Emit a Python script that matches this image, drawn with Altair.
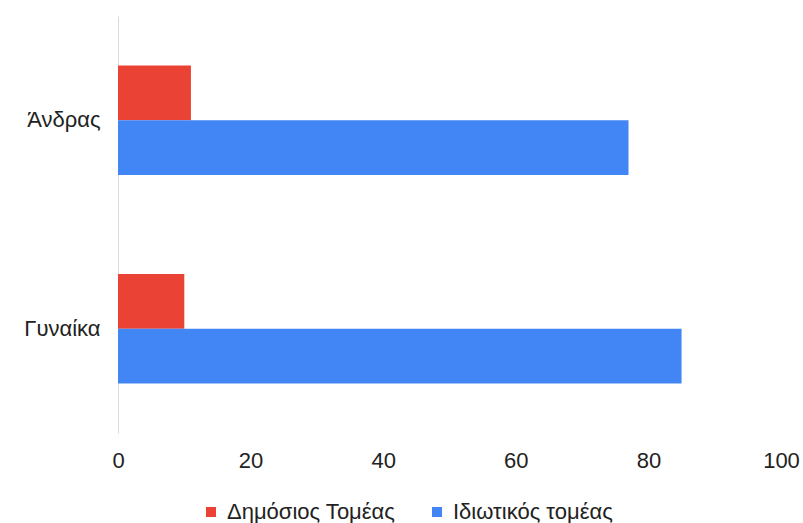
import altair as alt
import pandas as pd

categories = ["Άνδρας", "Γυναίκα"]
series = ["Δημόσιος Τομέας", "Ιδιωτικός τομέας"]
public_values = [11, 10]
private_values = [77, 85]
colors = ["#EA4335", "#4285F4"]
x_ticks = [0, 20, 40, 60, 80, 100]

rows = []
for i, c in enumerate(categories):
    rows.append({"category": c, "series": series[0], "value": public_values[i]})
    rows.append({"category": c, "series": series[1], "value": private_values[i]})
df = pd.DataFrame(rows)

FONT = "Liberation Sans"

chart = alt.Chart(df).mark_bar().encode(
    y=alt.Y("category:N", sort=categories, title=None,
            scale=alt.Scale(paddingInner=0.474, paddingOuter=0.237),
            axis=alt.Axis(domain=True, domainColor="#dcdcdc", domainWidth=1,
                          ticks=False, grid=False, labelFontSize=22,
                          labelColor="#222222", labelFont=FONT, labelPadding=18)),
    yOffset=alt.YOffset("series:N", sort=series),
    x=alt.X("value:Q", title=None,
            scale=alt.Scale(domain=[0, 100], nice=False),
            axis=alt.Axis(values=x_ticks, domain=False, ticks=False, grid=False,
                          labelFontSize=22, labelColor="#222222", labelFont=FONT,
                          labelPadding=17, labelBaseline="top", labelFlush=False)),
    color=alt.Color("series:N", sort=series,
                    scale=alt.Scale(domain=series, range=colors),
                    legend=alt.Legend(title=None, orient="none", direction="horizontal",
                                      legendX=82, legendY=485,
                                      symbolType="square", symbolSize=100,
                                      symbolStrokeWidth=0, labelLimit=400,
                                      labelFontSize=22, labelFont=FONT,
                                      labelColor="#222222", columnPadding=30,
                                      labelOffset=5)),
).properties(
    width=663, height=417,
    autosize=alt.AutoSizeParams(type="none"),
    padding={"left": 118, "top": 16, "right": 22, "bottom": 90},
).configure(background="white").configure_view(stroke=None)

chart.save("out.html", embed_options={"renderer": "svg", "actions": False})
